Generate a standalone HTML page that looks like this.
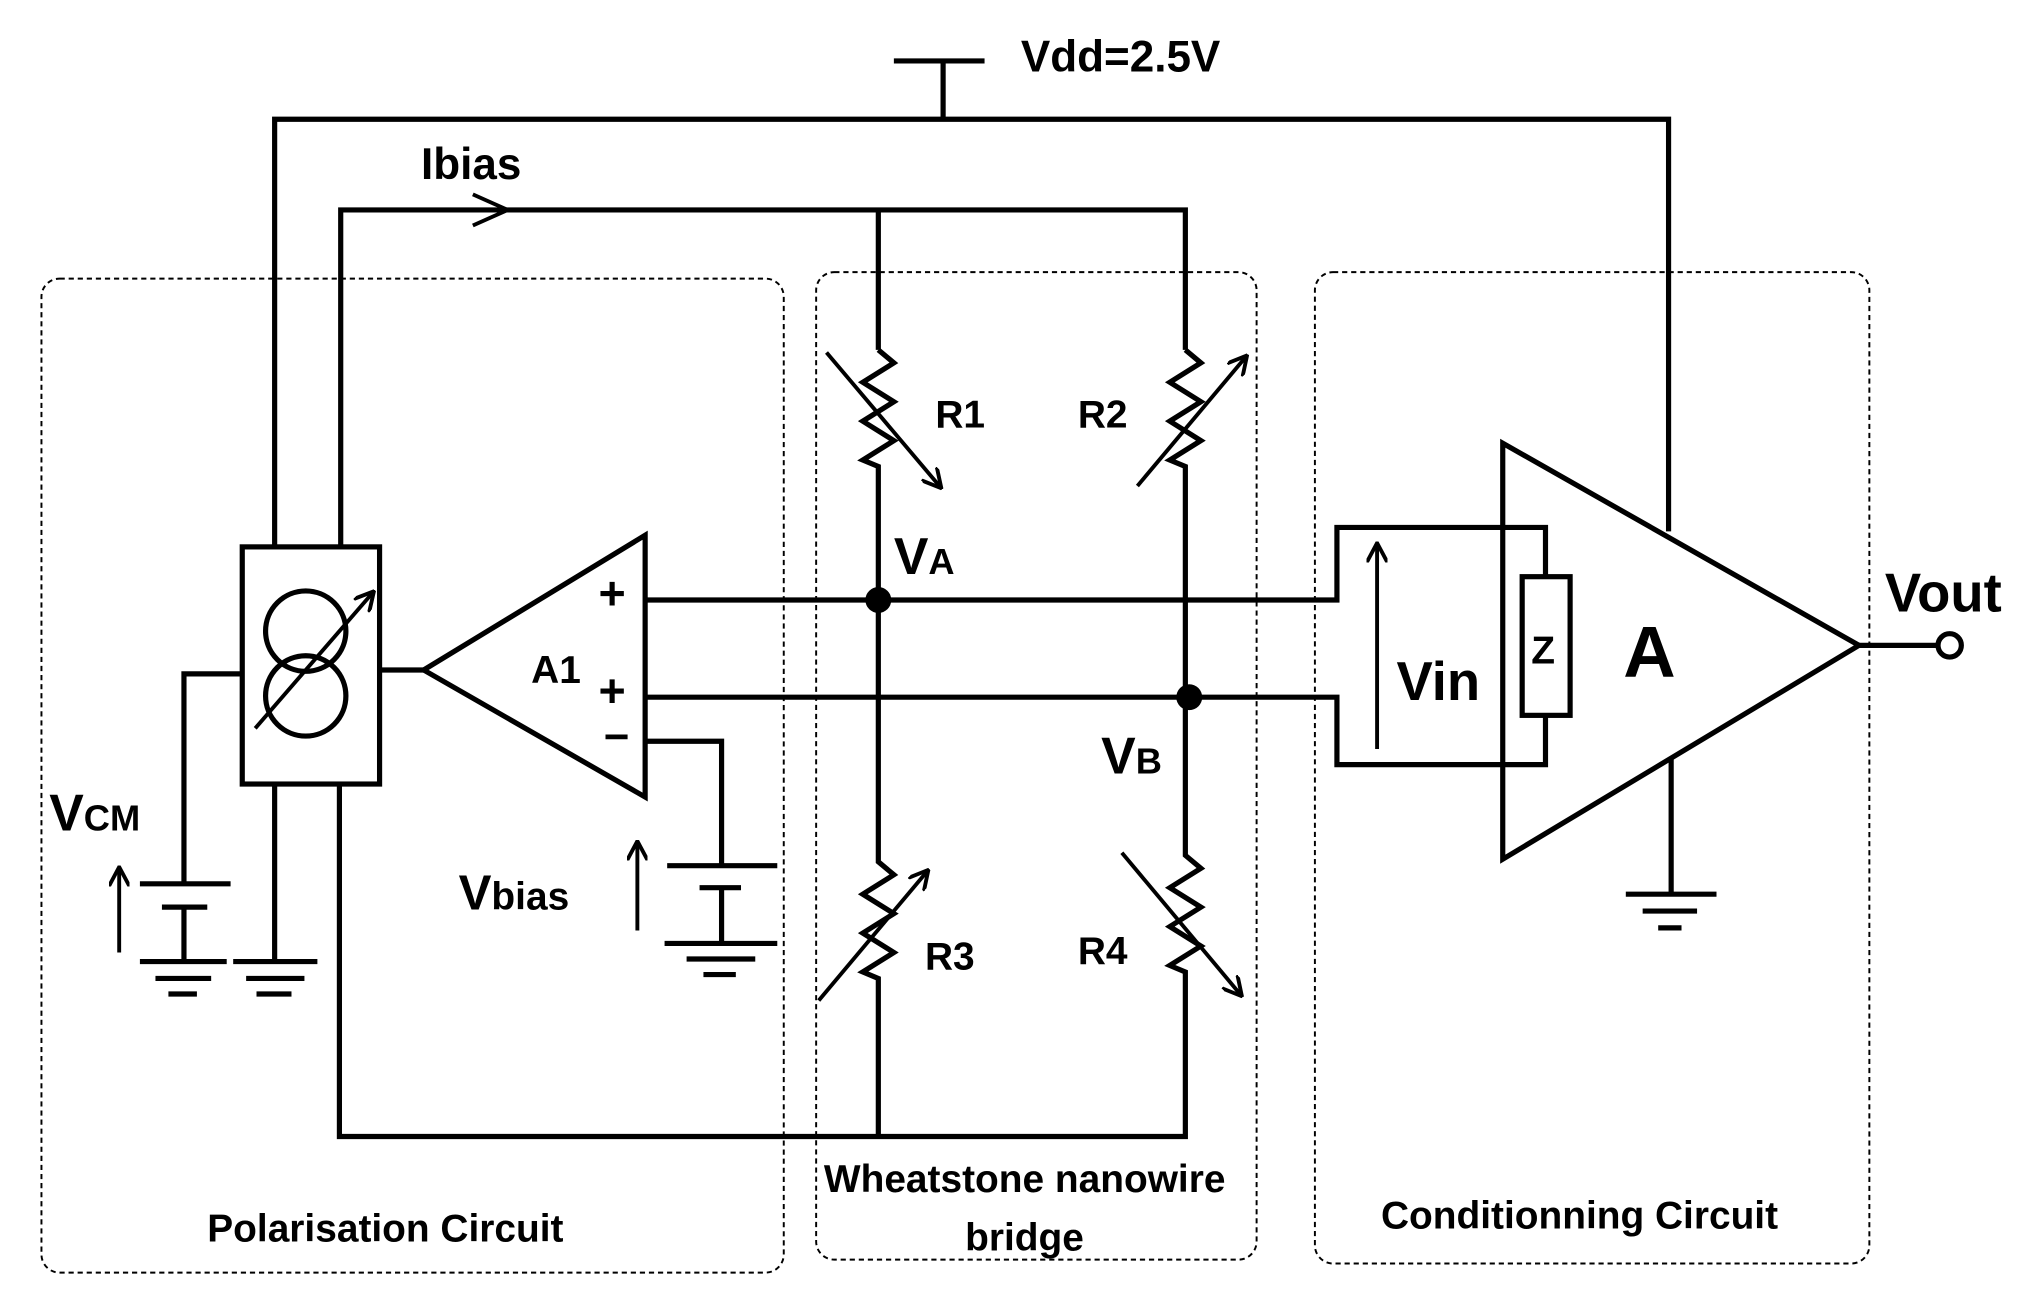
<!DOCTYPE html>
<html><head><meta charset="utf-8"><style>html,body{margin:0;padding:0;background:#fff}svg{display:block}</style></head>
<body>
<svg width="2030" height="1305" viewBox="0 0 1567 1007" preserveAspectRatio="none" xmlns="http://www.w3.org/2000/svg">
<defs>
<marker id="ah2" markerWidth="16" markerHeight="16" refX="14" refY="8" orient="auto" markerUnits="userSpaceOnUse"><path d="M0,0 L15,8 L0,16" fill="none" stroke="#000" stroke-width="3"/></marker></defs>
<g fill="none" stroke="#000" stroke-width="1.5" stroke-dasharray="4,3">
<rect x="32" y="215" width="573" height="767" rx="14"/>
<rect x="630" y="210" width="340" height="762" rx="14"/>
<rect x="1015" y="210" width="428" height="765" rx="14"/>
</g>
<g fill="none" stroke="#000" stroke-width="4" stroke-linejoin="miter">
<path d="M690,47 H760 M728,47 V92"/>
<path d="M212,422 V92 H1288 V410"/>
<path d="M263,422 V162 H915 V270 M678,162 V270"/>
<path d="M365,150 L392,162 L365,174" stroke-width="3"/>
<path d="M678,270 l12,10 l-24,15 l24,15 l-24,15 l24,15 l-24,15 l12,5 V665 l12,10 l-24,15 l24,15 l-24,15 l24,15 l-24,15 l12,5 V877"/>
<path d="M915,270 l12,10 l-24,15 l24,15 l-24,15 l24,15 l-24,15 l12,5 V660 l12,10 l-24,15 l24,15 l-24,15 l24,15 l-24,15 l12,5 V877 H262 V605"/>
<path d="M498,463 H1032 V407 H1193 V445 M498,538 H1032 V590 H1193 V552"/>
<rect x="1175" y="445" width="37" height="107"/>
<rect x="187" y="422" width="106" height="183"/>
<circle cx="236" cy="487" r="31"/><circle cx="236" cy="537" r="31"/>
<path d="M293,517 H327"/>
<path d="M327,517 L498,413 V615 Z"/>
<path d="M498,572 H557 V668 M515,668 H600 M540,685 H572 M557,685 V728 M513,728 H600 M530,740 H583 M543,752 H568"/>
<path d="M187,520 H142 V682 M108,682 H178 M125,700 H160 M142,700 V742 M108,742 H175 M120,755 H163 M130,767 H152"/>
<path d="M212,605 V742 M180,742 H245 M190,755 H235 M198,767 H225"/>
<path d="M1160,342 L1160,663 L1435,498 Z"/>
<path d="M1435,498 H1495"/>
<circle cx="1505" cy="498" r="9"/>
<path d="M1290,585 V690 M1255,690 H1325 M1268,703 H1310 M1280,716 H1298"/>
</g>
<g stroke="#000" stroke-width="3" fill="none">
<line x1="638" y1="272" x2="726" y2="376" marker-end="url(#ah2)"/>
<line x1="878" y1="375" x2="962" y2="275" marker-end="url(#ah2)"/>
<line x1="632" y1="772" x2="716" y2="672" marker-end="url(#ah2)"/>
<line x1="866" y1="658" x2="958" y2="768" marker-end="url(#ah2)"/>
<line x1="197" y1="562" x2="288" y2="457" marker-end="url(#ah2)"/>
<line x1="492" y1="718" x2="492" y2="650" marker-end="url(#ah2)"/>
<line x1="92" y1="735" x2="92" y2="670" marker-end="url(#ah2)"/>
<line x1="1063" y1="578" x2="1063" y2="420" marker-end="url(#ah2)"/>
</g>
<circle cx="678" cy="463" r="10" fill="#000"/><circle cx="918" cy="538" r="10" fill="#000"/>
<g font-family="Liberation Sans, Arial, sans-serif" font-weight="bold" fill="#000">
<text x="788" y="55" font-size="34">Vdd=2.5V</text>
<text x="325" y="138" font-size="34">Ibias</text>
<text x="722" y="330" font-size="30">R1</text>
<text x="832" y="330" font-size="30">R2</text>
<text x="714" y="748" font-size="30">R3</text>
<text x="832" y="744" font-size="30">R4</text>
<text x="690" y="443" font-size="40">V<tspan font-size="28">A</tspan></text>
<text x="850" y="597" font-size="40">V<tspan font-size="28">B</tspan></text>
<text x="410" y="527" font-size="30">A1</text>
<text x="462" y="470" font-size="36">+</text>
<text x="462" y="545" font-size="36">+</text>
<text x="466" y="580" font-size="34">−</text>
<text x="354" y="702" font-size="38">V<tspan font-size="30">bias</tspan></text>
<text x="38" y="641" font-size="40">V<tspan font-size="28">CM</tspan></text>
<text x="1078" y="540" font-size="42">Vin</text>
<text x="1182" y="512" font-size="30">Z</text>
<text x="1253" y="522" font-size="56">A</text>
<text x="1455" y="472" font-size="42">Vout</text>
<text x="160" y="958" font-size="30">Polarisation Circuit</text>
<text x="636" y="920" font-size="30">Wheatstone nanowire</text>
<text x="745" y="965" font-size="30">bridge</text>
<text x="1066" y="948" font-size="30">Conditionning Circuit</text>
</g>
</svg>
</body></html>
